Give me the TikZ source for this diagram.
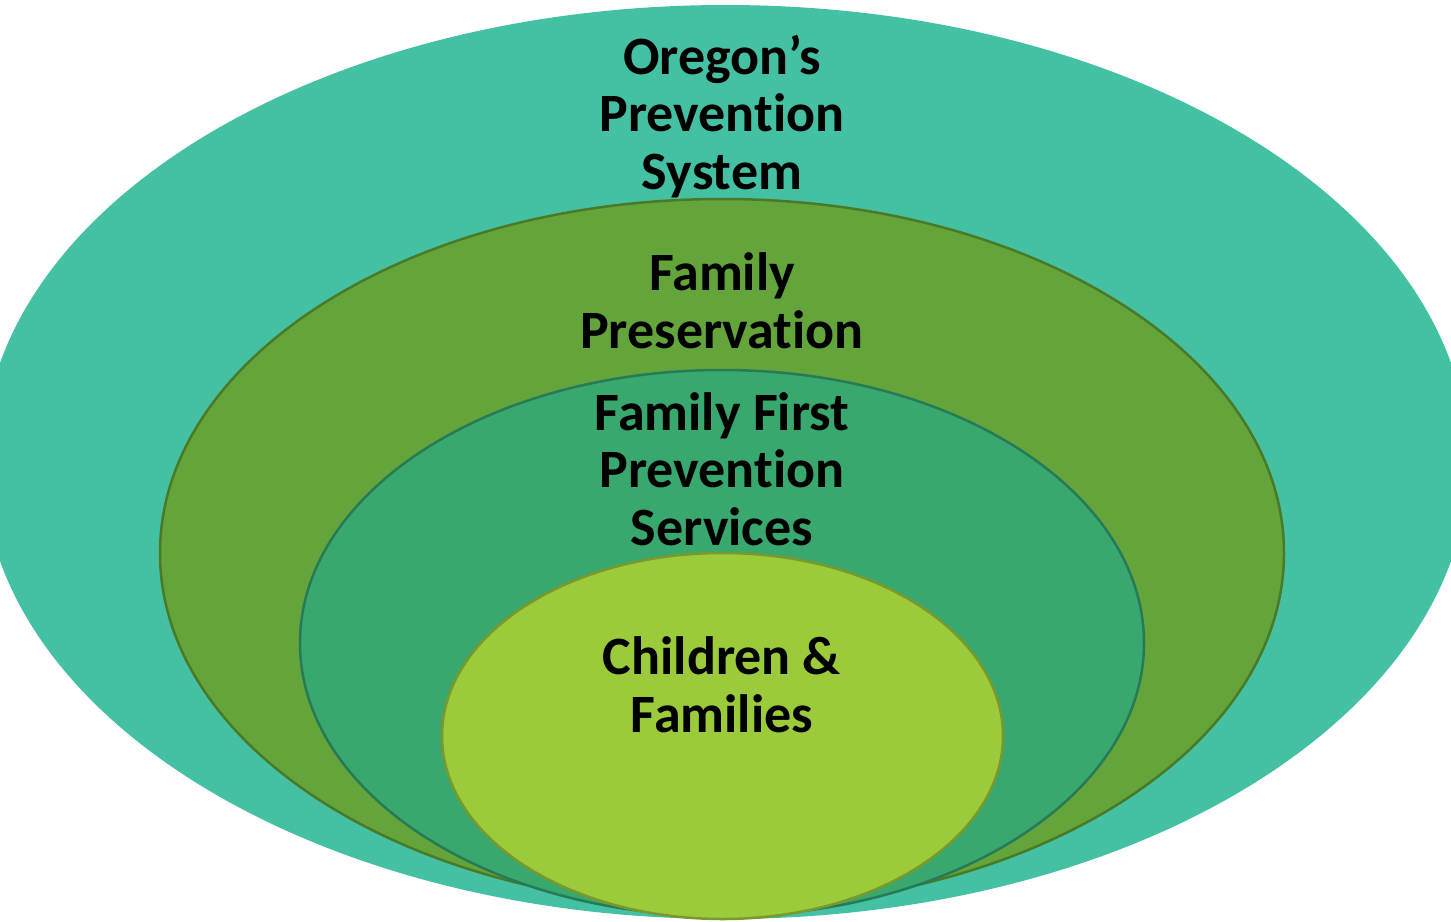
\documentclass[tikz,border=0pt]{standalone}
\usepackage{fontspec}
\setmainfont{Carlito}[Ligatures=NoCommon]
\definecolor{outerteal}{HTML}{44C1A3}
\definecolor{olive}{HTML}{63A53A}
\definecolor{oliveline}{HTML}{4A7A26}
\definecolor{midgreen}{HTML}{38A86E}
\definecolor{midline}{HTML}{277A58}
\definecolor{lime}{HTML}{9BCA3A}
\definecolor{limeline}{HTML}{78992C}
\tikzset{
  lbl/.style={font=\bfseries\fontsize{54}{57.5}\selectfont, align=center, text=black, inner sep=0pt, anchor=base},
  ring/.style={line width=2.5pt}
}
\begin{document}
\begin{tikzpicture}[x=1pt,y=-1pt]
\useasboundingbox (0,0) rectangle (1451,921);
\begin{scope}
\clip (0,0) rectangle (1451,921);
\fill[outerteal] (725.5,462) ellipse [x radius=743, y radius=457];
\end{scope}
\filldraw[ring, fill=olive, draw=oliveline] (722,553) ellipse [x radius=562, y radius=354];
\filldraw[ring, fill=midgreen, draw=midline] (722,643) ellipse [x radius=422, y radius=273];
\filldraw[ring, fill=lime, draw=limeline] (722.5,736) ellipse [x radius=280.5, y radius=183];
\node[lbl] (oregon) at (722,189) {Oregon’s\\Prevention\\System};
\node[lbl] (famp) at (722,348) {Family\\Preservation};
\node[lbl] (ffps) at (722,545) {Family First\\Prevention\\Services};
\node[lbl] (cf) at (722,732) {Children \&\\Families};
\end{tikzpicture}
\end{document}
